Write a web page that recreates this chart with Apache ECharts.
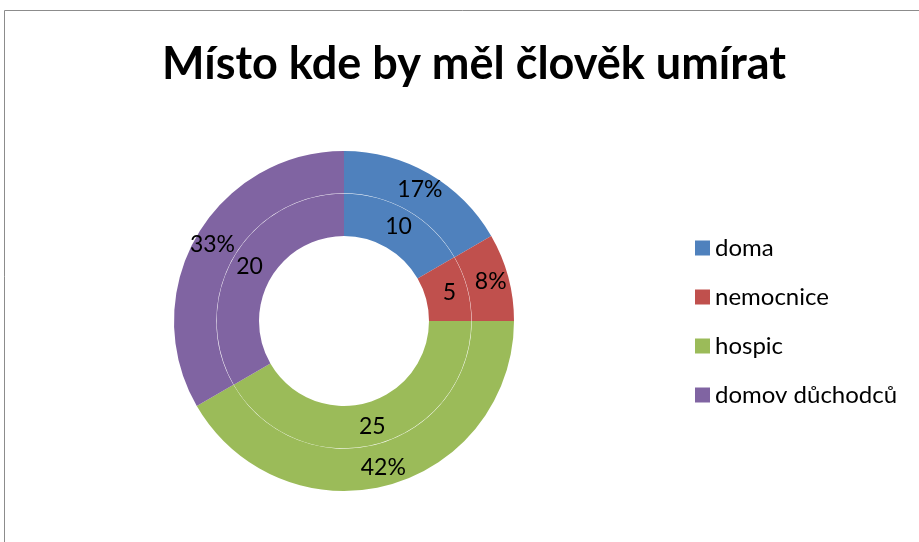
<!DOCTYPE html>
<html>
<head>
<meta charset="utf-8">
<script src="https://cdn.jsdelivr.net/npm/echarts@6/dist/echarts.min.js"></script>
<style>html,body{margin:0;padding:0;background:#fff}#c{width:919px;height:542px}</style>
</head>
<body>
<div id="c"></div>
<script>
var titleText = 'Místo kde by měl člověk umírat';
var categories = ['doma', 'nemocnice', 'hospic', 'domov důchodců'];
var counts = [10, 5, 25, 20];
var colors = ['#4F81BD', '#C0504D', '#9BBB59', '#8064A2'];

var font = 'Lato, "Open Sans", sans-serif';
var chart = echarts.init(document.getElementById('c'), null, {renderer: 'canvas'});
function mk(vals) {
  return categories.map(function (n, i) { return {name: n, value: vals[i], itemStyle: {color: colors[i]}}; });
}
var total = counts.reduce(function (a, b) { return a + b; }, 0);
chart.setOption({
  animation: false,
  backgroundColor: '#fff',
  graphic: [{
    type: 'rect', silent: true,
    shape: {x: 4.5, y: 10.5, width: 1000, height: 1000},
    style: {fill: 'none', stroke: '#8c8c8c', lineWidth: 1}
  }],
  title: {
    text: titleText, top: 37,
    left: 469, textAlign: 'center',
    textStyle: {fontFamily: font, fontWeight: 'bold', fontSize: 45, color: '#000'}
  },
  legend: {
    orient: 'vertical', left: 690, top: 231,
    itemWidth: 15, itemHeight: 15, itemGap: 25,
    icon: 'rect',
    data: categories,
    textStyle: {fontFamily: font, fontSize: 24, color: '#000'}
  },
  series: [{
    type: 'pie', name: 'inner', center: [344, 321], radius: [85, 127.3],
    startAngle: 90, clockwise: true, silent: true,
    label: {show: true, position: 'inside', formatter: '{c}',
      fontFamily: font, fontSize: 23, color: '#000'},
    labelLine: {show: false},
    data: mk(counts)
  }, {
    type: 'pie', name: 'outer', center: [344, 321], radius: [127.7, 170],
    startAngle: 90, clockwise: true, silent: true,
    label: {show: true, position: 'inside',
      formatter: function (p) { return Math.round(p.value / total * 100) + '%'; },
      fontFamily: font, fontSize: 23, color: '#000'},
    labelLine: {show: false},
    data: mk(counts)
  }]
});
</script>
</body>
</html>
